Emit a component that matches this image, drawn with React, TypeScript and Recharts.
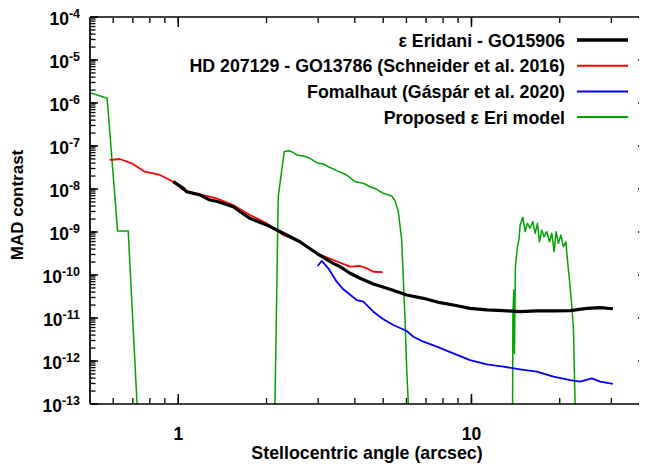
import React from 'react';
import { LineChart, Line, XAxis, YAxis, Legend } from 'recharts';

const FONT = '"Liberation Sans", Arial, Helvetica, sans-serif';

// ---------- data ----------
const seriesNames = [
  'ε Eridani - GO15906',
  'HD 207129 - GO13786 (Schneider et al. 2016)',
  'Fomalhaut (Gáspár et al. 2020)',
  'Proposed ε Eri model',
];
const seriesColors = ['#000000', '#ff0000', '#0000ff', '#00a400'];
const seriesWidths = [3.2, 1.8, 1.8, 1.5];

const epsEriAngle = [0.961, 1.039, 1.067, 1.185, 1.282, 1.351, 1.539, 1.755, 2.002, 2.28, 2.6, 2.965, 3.379, 3.56, 3.853, 4.168, 4.627, 5.276, 6.016, 6.853, 7.814, 8.675, 9.89, 11.28, 12.85, 14.65, 16.71, 19.03, 21.71, 24.75, 27.48, 30.37];
const epsEriContrast = [1.48e-8, 1.05e-8, 8.65e-9, 7.3e-9, 5.55e-9, 5.2e-9, 3.87e-9, 2.08e-9, 1.46e-9, 9.33e-10, 5.94e-10, 3.2e-10, 1.87e-10, 1.56e-10, 1.1e-10, 8.38e-11, 6.18e-11, 4.65e-11, 3.43e-11, 2.87e-11, 2.27e-11, 2.01e-11, 1.68e-11, 1.54e-11, 1.48e-11, 1.4e-11, 1.46e-11, 1.46e-11, 1.48e-11, 1.68e-11, 1.74e-11, 1.64e-11];

const hdAngle = [0.584, 0.632, 0.693, 0.769, 0.866, 0.961, 1.039, 1.185, 1.351, 1.539, 1.755, 2.002, 2.28, 2.6, 2.965, 3.379, 3.853, 4.168, 4.392, 4.627, 4.98];
const hdContrast = [4.72e-8, 4.99e-8, 3.96e-8, 2.52e-8, 2.12e-8, 1.48e-8, 9.48e-9, 7.53e-9, 6.08e-9, 4.25e-9, 2.48e-9, 1.59e-9, 8.51e-10, 5.94e-10, 3.2e-10, 2.23e-10, 1.56e-10, 1.62e-10, 1.43e-10, 1.19e-10, 1.17e-10];

const fomAngle = [2.988, 3.084, 3.249, 3.47, 3.654, 4.06, 4.276, 4.627, 5.005, 5.413, 6.016, 6.336, 6.853, 7.614, 8.675, 9.89, 11.28, 12.85, 14.65, 16.71, 19.03, 21.71, 23.48, 25.74, 27.48, 30.37];
const fomContrast = [1.62e-10, 2.12e-10, 1.43e-10, 6.98e-11, 4.65e-11, 2.62e-11, 2.39e-11, 1.4e-11, 9.33e-12, 6.87e-12, 4.99e-12, 3.67e-12, 2.81e-12, 2.15e-12, 1.51e-12, 1.05e-12, 8.37e-13, 7.36e-13, 6.41e-13, 5.64e-13, 4.31e-13, 3.61e-13, 3.3e-13, 3.96e-13, 3.3e-13, 2.92e-13];

const modelAngle = [0.5, 0.572, 0.621, 0.675, 0.749, 2.114, 2.193, 2.298, 2.372, 2.436, 2.534, 2.669, 2.813, 2.965, 3.123, 3.249, 3.47, 3.753, 4.006, 4.276, 4.508, 4.753, 5.005, 5.346, 5.486, 5.63, 5.782, 5.935, 6.016, 6.28, 13.77, 13.85, 13.95, 14.01, 14.12, 14.35, 14.54, 14.65, 14.97, 15.24, 15.52, 15.85, 16.19, 16.49, 16.79, 17.05, 17.38, 17.69, 18.07, 18.45, 18.79, 19.14, 19.44, 19.8, 20.17, 20.59, 20.98, 21.25, 21.59, 22.0, 22.28, 22.4, 22.93];
const modelContrast = [1.74e-6, 1.29e-6, 1.05e-9, 1.05e-9, 1e-15, 1e-15, 6.62e-9, 7.37e-8, 7.78e-8, 7.37e-8, 6.18e-8, 5.85e-8, 5.17e-8, 4.09e-8, 3.81e-8, 3.3e-8, 2.67e-8, 2.12e-8, 1.48e-8, 1.36e-8, 1.13e-8, 9.84e-9, 7.94e-9, 6.87e-9, 5.35e-9, 2.97e-9, 6.52e-10, 8.98e-12, 6.18e-13, 1e-15, 1e-15, 1.3e-11, 4.5e-11, 1.5e-12, 1.56e-10, 4.55e-10, 7.13e-10, 1.46e-9, 2.2e-9, 1.02e-9, 1.59e-9, 1.22e-9, 1.74e-9, 9.33e-10, 1.59e-9, 5.94e-10, 1.11e-9, 7.78e-10, 1.02e-9, 5.94e-10, 9.33e-10, 3.48e-10, 1.02e-9, 5.46e-10, 8.51e-10, 4.55e-10, 5.94e-10, 2.23e-10, 7.66e-11, 1.83e-11, 5.26e-12, 8.85e-13, 1e-15];

const xMajorTicks = [1, 10];
const xMinorTicks = [0.6, 0.7, 0.8, 0.9, 2, 3, 4, 5, 6, 7, 8, 9, 20, 30, 40];
const yMajorExponents = [-13, -12, -11, -10, -9, -8, -7, -6, -5, -4];
const yMinorMultipliers = [2, 3, 4, 5, 6, 7, 8, 9];

const xTitle = 'Stellocentric angle (arcsec)';
const yTitle = 'MAD contrast';

// ---------- derived ----------
const toPoints = (xs: number[], ys: number[]) => xs.map((x, i) => ({ x, y: ys[i] }));
const seriesData = [
  toPoints(epsEriAngle, epsEriContrast),
  toPoints(hdAngle, hdContrast),
  toPoints(fomAngle, fomContrast),
  toPoints(modelAngle, modelContrast),
];
const xAllTicks = [...xMajorTicks, ...xMinorTicks].sort((a, b) => a - b);
const yMajorTicks = yMajorExponents.map((e) => Number(`1e${e}`));
const yAllTicks: number[] = [];
yMajorExponents.forEach((e) => {
  yAllTicks.push(Number(`1e${e}`));
  if (e < -4) yMinorMultipliers.forEach((m) => yAllTicks.push(Number(`${m}e${e}`)));
});

const X_DOMAIN: [number, number] = [0.5, 40];
const Y_DOMAIN: [number, number] = [1e-13, 1e-4];
const minorStroke = { stroke: '#000', strokeWidth: 1.3 };
const majorStroke = { stroke: '#000', strokeWidth: 1.5 };

const EmptyTick = () => <g />;

const XLabelTick = (props: any) => {
  const { x, y, payload } = props;
  return (
    <text x={x} y={y + 36} textAnchor="middle" fontFamily={FONT} fontWeight="bold" fontSize={17.5} fill="#000">
      {String(payload.value)}
    </text>
  );
};

const YLabelTick = (props: any) => {
  const { x, y, payload } = props;
  const exp = Math.round(Math.log10(payload.value));
  return (
    <text x={x - 10} y={y + 8} textAnchor="end" fontFamily={FONT} fontWeight="bold" fontSize={17.5} fill="#000">
      <tspan>10</tspan>
      <tspan dy={-7} fontSize={12.5}>{`-${Math.abs(exp)}`}</tspan>
    </text>
  );
};

const LegendBox = () => (
  <svg width={640} height={140} style={{ display: 'block' }}>
    {seriesNames.map((name, i) => {
      const cy = 32 + i * 25.7;
      return (
        <g key={name}>
          <text x={557} y={cy + 6.5} textAnchor="end" fontFamily={FONT} fontWeight="bold" fontSize={17.8} fill="#000">
            {name}
          </text>
          <line x1={569} y1={cy} x2={620} y2={cy} stroke={seriesColors[i]} strokeWidth={i === 0 ? 3.5 : 2} />
        </g>
      );
    })}
  </svg>
);

const tickAxisX = (id: string, orientation: 'top' | 'bottom', ticks: number[], size: number, stroke: any) => (
  <XAxis
    key={id}
    xAxisId={id}
    orientation={orientation}
    dataKey="x"
    type="number"
    scale="log"
    domain={X_DOMAIN}
    allowDataOverflow
    ticks={ticks}
    interval={0}
    mirror
    height={1}
    axisLine={false}
    tick={<EmptyTick />}
    tickLine={stroke}
    tickSize={size}
  />
);

const tickAxisY = (id: string, orientation: 'left' | 'right', ticks: number[], size: number, stroke: any) => (
  <YAxis
    key={id}
    yAxisId={id}
    orientation={orientation}
    dataKey="y"
    type="number"
    scale="log"
    domain={Y_DOMAIN}
    allowDataOverflow
    ticks={ticks}
    interval={0}
    mirror
    width={1}
    axisLine={false}
    tick={<EmptyTick />}
    tickLine={stroke}
    tickSize={size}
  />
);

export default function App() {
  return (
    <div style={{ width: 639, height: 463, overflow: 'hidden', position: 'relative', background: '#fff' }}>
      <LineChart width={680} height={463} margin={{ top: 0, right: 0, bottom: 0, left: 0 }}>
        <XAxis
          xAxisId="bottom"
          dataKey="x"
          type="number"
          scale="log"
          domain={X_DOMAIN}
          allowDataOverflow
          ticks={xMajorTicks}
          interval={0}
          tickSize={0}
          tickMargin={0}
          tickLine={false}
          height={67}
          axisLine={{ stroke: '#000', strokeWidth: 1.5 }}
          tick={<XLabelTick />}
          label={() => (
            <text x={359} y={451} textAnchor="middle" fontFamily={FONT} fontWeight="bold" fontSize={17.8} fill="#000">
              {xTitle}
            </text>
          )}
        />
        <XAxis
          xAxisId="top"
          orientation="top"
          dataKey="x"
          type="number"
          scale="log"
          domain={X_DOMAIN}
          allowDataOverflow
          ticks={xMajorTicks}
          tick={<EmptyTick />}
          tickLine={false}
          height={9}
          axisLine={{ stroke: '#000', strokeWidth: 1.5 }}
        />
        <YAxis
          yAxisId="left"
          dataKey="y"
          type="number"
          scale="log"
          domain={Y_DOMAIN}
          allowDataOverflow
          ticks={yMajorTicks}
          interval={0}
          tickSize={0}
          tickMargin={0}
          tickLine={false}
          width={82}
          axisLine={{ stroke: '#222', strokeWidth: 2 }}
          tick={<YLabelTick />}
          label={() => (
            <text
              transform="translate(15,197) rotate(-90)"
              textAnchor="middle"
              fontFamily={FONT}
              fontWeight="bold"
              fontSize={17}
              fill="#000"
            >
              {yTitle}
            </text>
          )}
        />
        <YAxis
          yAxisId="right"
          orientation="right"
          dataKey="y"
          type="number"
          scale="log"
          domain={Y_DOMAIN}
          allowDataOverflow
          ticks={yMajorTicks}
          tick={<EmptyTick />}
          tickLine={false}
          width={40}
          axisLine={{ stroke: '#000', strokeWidth: 1.5 }}
        />
        {tickAxisX('bMin', 'bottom', xAllTicks, 5, minorStroke)}
        {tickAxisX('bMaj', 'bottom', xMajorTicks, 10, majorStroke)}
        {tickAxisX('tMin', 'top', xAllTicks, 5, minorStroke)}
        {tickAxisX('tMaj', 'top', xMajorTicks, 10, majorStroke)}
        {tickAxisY('lMin', 'left', yAllTicks, 4.5, minorStroke)}
        {tickAxisY('lMaj', 'left', yMajorTicks, 8, majorStroke)}
        {tickAxisY('rMin', 'right', yAllTicks, 5, minorStroke)}
        {tickAxisY('rMaj', 'right', yMajorTicks, 10, majorStroke)}
        <Legend
          layout="vertical"
          align="center"
          verticalAlign="middle"
          content={() => <LegendBox />}
          wrapperStyle={{ position: 'absolute', left: 0, top: 0, width: 640, height: 140 }}
        />
        {[3, 2, 1, 0].map((i) => (
          <Line
            key={seriesNames[i]}
            name={seriesNames[i]}
            data={seriesData[i]}
            dataKey="y"
            xAxisId="bottom"
            yAxisId="left"
            type="linear"
            stroke={seriesColors[i]}
            strokeWidth={seriesWidths[i]}
            dot={false}
            activeDot={false}
            isAnimationActive={false}
            strokeLinejoin="round"
          />
        ))}
      </LineChart>
    </div>
  );
}
